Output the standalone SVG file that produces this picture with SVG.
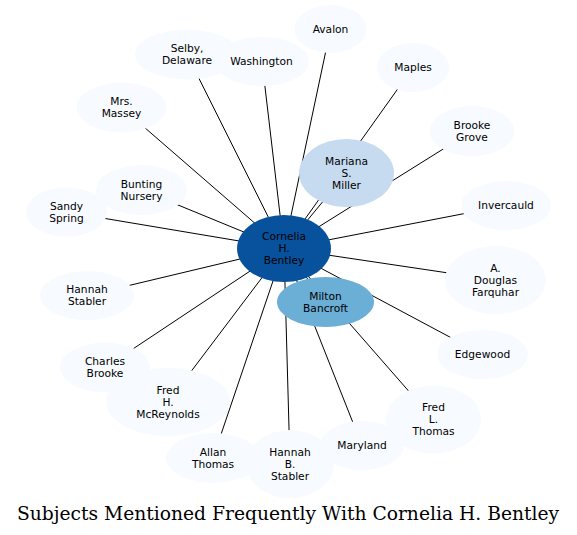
<svg xmlns="http://www.w3.org/2000/svg" width="577" height="535" viewBox="0 0 577 535">
<style>
.e{stroke:#000;stroke-width:1;fill:none}
.n{fill:#f7fbff}
.t{font-family:"DejaVu Sans",sans-serif;font-size:10.67px;fill:#000;text-anchor:middle}
.title{font-family:"DejaVu Serif",serif;font-size:18.7px;fill:#000;text-anchor:middle}
</style>
<rect width="577" height="535" fill="#fff"/>
<g id="edges">
<line class="e" x1="284" y1="248.5" x2="330.5" y2="29"/>
<line class="e" x1="284" y1="248.5" x2="413" y2="67.5"/>
<line class="e" x1="284" y1="248.5" x2="472" y2="131"/>
<line class="e" x1="284" y1="248.5" x2="506" y2="205.5"/>
<line class="e" x1="284" y1="248.5" x2="495.5" y2="280"/>
<line class="e" x1="284" y1="248.5" x2="482.5" y2="354.5"/>
<line class="e" x1="284" y1="248.5" x2="433.5" y2="419.5"/>
<line class="e" x1="284" y1="248.5" x2="362" y2="445.5"/>
<line class="e" x1="284" y1="248.5" x2="290" y2="464"/>
<line class="e" x1="284" y1="248.5" x2="213" y2="458"/>
<line class="e" x1="284" y1="248.5" x2="168" y2="402"/>
<line class="e" x1="284" y1="248.5" x2="105" y2="367.5"/>
<line class="e" x1="284" y1="248.5" x2="87" y2="295.5"/>
<line class="e" x1="284" y1="248.5" x2="66.5" y2="212"/>
<line class="e" x1="284" y1="248.5" x2="141.5" y2="190"/>
<line class="e" x1="284" y1="248.5" x2="121.5" y2="107.5"/>
<line class="e" x1="284" y1="248.5" x2="187" y2="54.5"/>
<line class="e" x1="284" y1="248.5" x2="262" y2="61.5"/>
<line class="e" x1="284" y1="248.5" x2="346.5" y2="173"/>
<line class="e" x1="284" y1="248.5" x2="325.5" y2="302"/>
</g>
<g id="avalon"><ellipse class="n" cx="330.5" cy="29" rx="36" ry="24"/><text class="t" x="330.5" y="32.8">Avalon</text></g>
<g id="maples"><ellipse class="n" cx="413" cy="67.5" rx="36" ry="24.5"/><text class="t" x="413" y="71.3">Maples</text></g>
<g id="brooke-grove"><ellipse class="n" cx="472" cy="131" rx="42.5" ry="25"/><text class="t" x="472" y="128.8">Brooke</text><text class="t" x="472" y="140.8">Grove</text></g>
<g id="invercauld"><ellipse class="n" cx="506" cy="205.5" rx="45" ry="24.5"/><text class="t" x="506" y="209.3">Invercauld</text></g>
<g id="farquhar"><ellipse class="n" cx="495.5" cy="280" rx="50.5" ry="34"/><text class="t" x="495.5" y="271.8">A.</text><text class="t" x="495.5" y="283.8">Douglas</text><text class="t" x="495.5" y="295.8">Farquhar</text></g>
<g id="edgewood"><ellipse class="n" cx="482.5" cy="354.5" rx="45.5" ry="24.5"/><text class="t" x="482.5" y="358.3">Edgewood</text></g>
<g id="fred-l-thomas"><ellipse class="n" cx="433.5" cy="419.5" rx="47.5" ry="34"/><text class="t" x="433.5" y="411.3">Fred</text><text class="t" x="433.5" y="423.3">L.</text><text class="t" x="433.5" y="435.3">Thomas</text></g>
<g id="allan-thomas"><ellipse class="n" cx="213" cy="458" rx="47" ry="25"/><text class="t" x="213" y="455.8">Allan</text><text class="t" x="213" y="467.8">Thomas</text></g>
<g id="hannah-b-stabler"><ellipse class="n" cx="290" cy="464" rx="44" ry="34"/><text class="t" x="290" y="455.8">Hannah</text><text class="t" x="290" y="467.8">B.</text><text class="t" x="290" y="479.8">Stabler</text></g>
<g id="maryland"><ellipse class="n" cx="362" cy="445.5" rx="42" ry="24.5"/><text class="t" x="362" y="449.3">Maryland</text></g>
<g id="charles-brooke"><ellipse class="n" cx="105" cy="367.5" rx="45" ry="25"/><text class="t" x="105" y="365.3">Charles</text><text class="t" x="105" y="377.3">Brooke</text></g>
<g id="fred-h-mcreynolds"><ellipse class="n" cx="168" cy="402" rx="62" ry="34"/><text class="t" x="168" y="393.8">Fred</text><text class="t" x="168" y="405.8">H.</text><text class="t" x="168" y="417.8">McReynolds</text></g>
<g id="hannah-stabler"><ellipse class="n" cx="87" cy="295.5" rx="47" ry="24.5"/><text class="t" x="87" y="293.3">Hannah</text><text class="t" x="87" y="305.3">Stabler</text></g>
<g id="sandy-spring"><ellipse class="n" cx="66.5" cy="212" rx="40.5" ry="24.5"/><text class="t" x="66.5" y="209.8">Sandy</text><text class="t" x="66.5" y="221.8">Spring</text></g>
<g id="bunting-nursery"><ellipse class="n" cx="141.5" cy="190" rx="45.5" ry="25"/><text class="t" x="141.5" y="187.8">Bunting</text><text class="t" x="141.5" y="199.8">Nursery</text></g>
<g id="mrs-massey"><ellipse class="n" cx="121.5" cy="107.5" rx="45" ry="25"/><text class="t" x="121.5" y="105.3">Mrs.</text><text class="t" x="121.5" y="117.3">Massey</text></g>
<g id="selby-delaware"><ellipse class="n" cx="187" cy="54.5" rx="52" ry="25"/><text class="t" x="187" y="52.3">Selby,</text><text class="t" x="187" y="64.3">Delaware</text></g>
<g id="washington"><ellipse class="n" cx="262" cy="61.5" rx="47" ry="24.5"/><text class="t" x="261.5" y="65.3">Washington</text></g>
<g id="mariana-s-miller"><ellipse cx="346.5" cy="173" rx="47.5" ry="34" fill="#c6dbef"/><text class="t" x="346.5" y="164.8">Mariana</text><text class="t" x="346.5" y="176.8">S.</text><text class="t" x="346.5" y="188.8">Miller</text></g>
<g id="milton-bancroft"><ellipse cx="325.5" cy="302" rx="48.5" ry="25" fill="#6baed6"/><text class="t" x="325.5" y="299.8">Milton</text><text class="t" x="325.5" y="311.8">Bancroft</text></g>
<g id="cornelia-h-bentley"><ellipse cx="284" cy="248.5" rx="47" ry="33.5" fill="#08519c"/><text class="t" x="284" y="240.3">Cornelia</text><text class="t" x="284" y="252.3">H.</text><text class="t" x="284" y="264.3">Bentley</text></g>
<text class="title" x="288" y="520">Subjects Mentioned Frequently With Cornelia H. Bentley</text>
</svg>
